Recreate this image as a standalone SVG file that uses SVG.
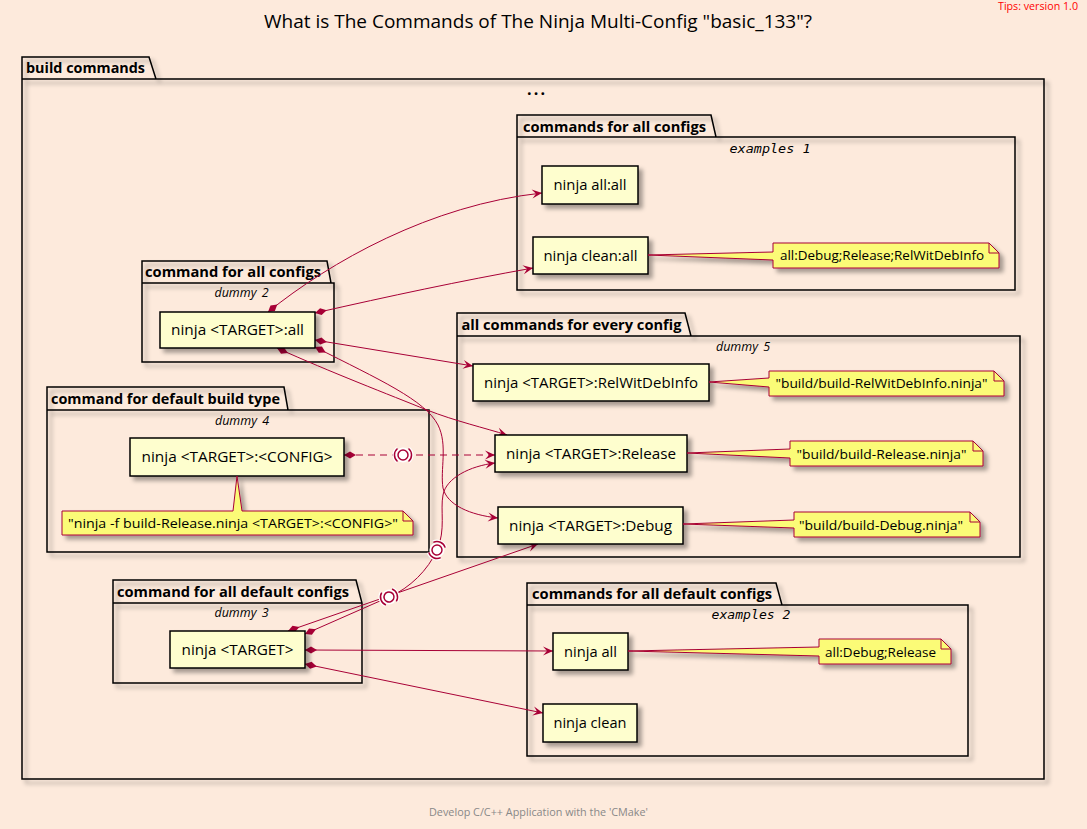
<svg xmlns="http://www.w3.org/2000/svg" width="1087" height="829" viewBox="0 0 1087 829">
<defs>
<style>
.pkg{fill:none;stroke:#000;stroke-width:1.5;filter:url(#sh);}
.pl{font-family:"Open Sans","Noto Sans",sans-serif;font-weight:bold;font-size:14px;fill:#000;}
.it{font-family:"Open Sans","Noto Sans",sans-serif;font-style:italic;font-size:12.5px;word-spacing:2px;fill:#000;text-anchor:middle;}
.mono{font-family:"DejaVu Sans Mono",monospace;font-style:italic;font-size:13px;fill:#000;text-anchor:middle;}
.box{fill:#FEFECE;stroke:#000;stroke-width:1.5;filter:url(#sh);}
.nl{font-family:"Open Sans","Noto Sans",sans-serif;font-size:14px;fill:#000;text-anchor:middle;}
.ns{fill:#FBFB77;stroke:#A80036;stroke-width:1;filter:url(#sh);}
.nf{fill:none;stroke:#A80036;stroke-width:1;}
.nt{font-family:"Open Sans","Noto Sans",sans-serif;font-size:13px;fill:#000;}
.e{fill:none;stroke:#A80036;stroke-width:1;}
.d{marker-start:url(#dm);marker-end:url(#ah);}
</style>
<filter id="sh" x="-10%" y="-10%" width="130%" height="150%">
<feDropShadow dx="4" dy="4" stdDeviation="2" flood-color="#000" flood-opacity="0.35"/>
</filter>
<marker id="ah" markerUnits="userSpaceOnUse" orient="auto" refX="0" refY="0" markerWidth="12" markerHeight="10" overflow="visible">
<path d="M0,0 L-10,-4.5 L-6,0 L-10,4.5 Z" fill="#A80036"/>
</marker>
<marker id="dm" markerUnits="userSpaceOnUse" orient="auto" refX="0" refY="0" markerWidth="14" markerHeight="10" overflow="visible">
<path d="M0,0 L6,-3.5 L12,0 L6,3.5 Z" fill="#A80036"/>
</marker>
<g id="lp">
<circle r="5" fill="#fff" stroke="#fff" stroke-width="5"/>
<path d="M-5.5,-6.5 A8.5,8.5 0 0 0 -5.5,6.5 M5.5,-6.5 A8.5,8.5 0 0 1 5.5,6.5" fill="none" stroke="#fff" stroke-width="4"/>
<path d="M-5.5,-6.5 A8.5,8.5 0 0 0 -5.5,6.5 M5.5,-6.5 A8.5,8.5 0 0 1 5.5,6.5" fill="none" stroke="#A80036" stroke-width="1.5"/>
<circle r="5" fill="#fff" stroke="#A80036" stroke-width="1.5"/>
</g>
</defs>
<rect x="0" y="0" width="1087" height="829" fill="#FDEADC"/>

<text x="538" y="28" font-family="Open Sans, Noto Sans, sans-serif" font-size="18" text-anchor="middle" textLength="548" lengthAdjust="spacingAndGlyphs">What is The Commands of The Ninja Multi-Config "basic_133"?</text>
<text x="1078" y="10" font-family="Open Sans, Noto Sans, sans-serif" font-size="10.5" fill="#FF0000" text-anchor="end" textLength="80" lengthAdjust="spacingAndGlyphs">Tips: version 1.0</text>

<g id="pkg-build-commands">
<path class="pkg" d="M22,57 L149,57 L156,79 L1044,79 L1044,779 L22,779 Z M22,79 L156,79"/>
<text class="pl" x="26" y="73" textLength="119" lengthAdjust="spacingAndGlyphs">build commands</text>
<text x="536" y="95" font-family="Open Sans, Noto Sans, sans-serif" font-size="16" font-weight="bold" text-anchor="middle" textLength="18" lengthAdjust="spacing">...</text>
</g>

<g id="pkg-commands-for-all-configs">
<path class="pkg" d="M517,115 L711,115 L716,137 L1015,137 L1015,290 L517,290 Z M517,137 L716,137"/>
<text class="pl" x="523" y="132" textLength="183" lengthAdjust="spacingAndGlyphs">commands for all configs</text>
<text class="mono" x="770" y="153" textLength="81" lengthAdjust="spacingAndGlyphs">examples 1</text>
</g>

<g id="pkg-command-for-all-configs">
<path class="pkg" d="M142,261 L327,261 L331,283 L334,283 L334,362 L142,362 Z M142,283 L331,283"/>
<text class="pl" x="145" y="277" textLength="176" lengthAdjust="spacingAndGlyphs">command for all configs</text>
<text class="it" x="241.5" y="297">dummy 2</text>
</g>

<g id="pkg-command-for-default-build-type">
<path class="pkg" d="M47,387 L284,387 L288,410 L429,410 L429,552 L47,552 Z M47,410 L288,410"/>
<text class="pl" x="51" y="404" textLength="229" lengthAdjust="spacingAndGlyphs">command for default build type</text>
<text class="it" x="242" y="425">dummy 4</text>
</g>

<g id="pkg-all-commands-for-every-config">
<path class="pkg" d="M457,313 L685,313 L691,336 L1020,336 L1020,557 L457,557 Z M457,336 L691,336"/>
<text class="pl" x="461.5" y="330" textLength="220" lengthAdjust="spacingAndGlyphs">all commands for every config</text>
<text class="it" x="743" y="351">dummy 5</text>
</g>

<g id="pkg-command-for-all-default-configs">
<path class="pkg" d="M113,580 L356,580 L362,603 L362,683 L113,683 Z M113,603 L362,603"/>
<text class="pl" x="117" y="597" textLength="232" lengthAdjust="spacingAndGlyphs">command for all default configs</text>
<text class="it" x="241.5" y="617">dummy 3</text>
</g>

<g id="pkg-commands-for-all-default-configs">
<path class="pkg" d="M527,583 L776,583 L782,605 L968,605 L968,756 L527,756 Z M527,605 L782,605"/>
<text class="pl" x="532" y="599" textLength="240" lengthAdjust="spacingAndGlyphs">commands for all default configs</text>
<text class="mono" x="751" y="619" textLength="79" lengthAdjust="spacingAndGlyphs">examples 2</text>
</g>

<g id="connectors">
<path class="e d" d="M268,312 C330,262 430,205 542,193"/>
<path class="e d" d="M315,313 C390,296 460,281 533,268"/>
<path class="e d" d="M315,340 L473,366"/>
<path class="e d" d="M277,348 C330,372 390,395 427,410 C455,421 485,428 507,435"/>
<path class="e d" d="M315,347 C380,380 425,400 438,425 C448,445 440,470 443,488 C447,505 470,515 498,518"/>
<path class="e d" d="M344,455 L495,455" stroke-dasharray="7,5"/>
<path class="e d" d="M288,631 L538,544"/>
<path class="e d" d="M305,634 L389,597 C410,588 428,570 437,550 C446,530 440,510 443,495 C446,478 470,466 495,463"/>
<path class="e d" d="M305,650 L553,651"/>
<path class="e d" d="M305,664 L543,713"/>
<use href="#lp" transform="translate(403,455)"/>
<use href="#lp" transform="translate(437,550) rotate(-66)"/>
<use href="#lp" transform="translate(389,597) rotate(-19)"/>
</g>

<g id="node-ninja-target-all">
<rect class="box" x="160" y="312" width="155" height="36"/>
<text class="nl" x="237.5" y="335" textLength="133" lengthAdjust="spacingAndGlyphs">ninja &lt;TARGET&gt;:all</text>
</g>
<g id="node-ninja-all-all">
<rect class="box" x="542" y="166" width="96" height="38"/>
<text class="nl" x="590" y="190" textLength="73" lengthAdjust="spacingAndGlyphs">ninja all:all</text>
</g>
<g id="node-ninja-clean-all">
<rect class="box" x="533" y="237" width="115" height="37"/>
<text class="nl" x="590.5" y="260.5" textLength="94" lengthAdjust="spacingAndGlyphs">ninja clean:all</text>
</g>
<g id="node-ninja-target-config">
<rect class="box" x="130" y="438" width="214" height="38"/>
<text class="nl" x="237" y="462" textLength="191" lengthAdjust="spacingAndGlyphs">ninja &lt;TARGET&gt;:&lt;CONFIG&gt;</text>
</g>
<g id="node-ninja-target-relwitdebinfo">
<rect class="box" x="473" y="364" width="236" height="37"/>
<text class="nl" x="591" y="387.5" textLength="214" lengthAdjust="spacingAndGlyphs">ninja &lt;TARGET&gt;:RelWitDebInfo</text>
</g>
<g id="node-ninja-target-release">
<rect class="box" x="495" y="435" width="192" height="37"/>
<text class="nl" x="591" y="458.5" textLength="170" lengthAdjust="spacingAndGlyphs">ninja &lt;TARGET&gt;:Release</text>
</g>
<g id="node-ninja-target-debug">
<rect class="box" x="498" y="507" width="185" height="37"/>
<text class="nl" x="590.5" y="530.5" textLength="163" lengthAdjust="spacingAndGlyphs">ninja &lt;TARGET&gt;:Debug</text>
</g>
<g id="node-ninja-target">
<rect class="box" x="170" y="631" width="135" height="37"/>
<text class="nl" x="237.5" y="654.5" textLength="112" lengthAdjust="spacingAndGlyphs">ninja &lt;TARGET&gt;</text>
</g>
<g id="node-ninja-all">
<rect class="box" x="553" y="633" width="75" height="37"/>
<text class="nl" x="590.5" y="656.5" textLength="53" lengthAdjust="spacingAndGlyphs">ninja all</text>
</g>
<g id="node-ninja-clean">
<rect class="box" x="543" y="704" width="94" height="38"/>
<text class="nl" x="590" y="728" textLength="73" lengthAdjust="spacingAndGlyphs">ninja clean</text>
</g>

<g id="note-all-configs">
<path class="ns" d="M773,243 L989,243 L999,253 L999,268 L773,268 L773,260 L648,255 L773,252 Z"/>
<path class="nf" d="M989,243 L989,253 L999,253"/>
<text class="nt" x="780" y="260" textLength="204" lengthAdjust="spacingAndGlyphs">all:Debug;Release;RelWitDebInfo</text>
</g>
<g id="note-relwitdebinfo">
<path class="ns" d="M769,371 L994,371 L1004,381 L1004,396 L769,396 L769,387 L709,382 L769,378 Z"/>
<path class="nf" d="M994,371 L994,381 L1004,381"/>
<text class="nt" x="775.5" y="388" textLength="212" lengthAdjust="spacingAndGlyphs">"build/build-RelWitDebInfo.ninja"</text>
</g>
<g id="note-release">
<path class="ns" d="M790,441 L973,441 L983,451 L983,466 L790,466 L790,458 L687,453 L790,449 Z"/>
<path class="nf" d="M973,441 L973,451 L983,451"/>
<text class="nt" x="796.5" y="458.5" textLength="170" lengthAdjust="spacingAndGlyphs">"build/build-Release.ninja"</text>
</g>
<g id="note-debug">
<path class="ns" d="M794,512 L970,512 L980,522 L980,537 L794,537 L794,528 L683,524 L794,520 Z"/>
<path class="nf" d="M970,512 L970,522 L980,522"/>
<text class="nt" x="799" y="529.5" textLength="164" lengthAdjust="spacingAndGlyphs">"build/build-Debug.ninja"</text>
</g>
<g id="note-default-configs">
<path class="ns" d="M819,639 L941,639 L951,649 L951,664 L819,664 L819,656 L628,651 L819,647 Z"/>
<path class="nf" d="M941,639 L941,649 L951,649"/>
<text class="nt" x="825" y="656.5" textLength="111" lengthAdjust="spacingAndGlyphs">all:Debug;Release</text>
</g>
<g id="note-config">
<path class="ns" d="M62,511 L233,511 L237,476 L242,511 L403,511 L413,521 L413,535 L62,535 Z"/>
<path class="nf" d="M403,511 L403,521 L413,521"/>
<text class="nt" x="68" y="528" textLength="330" lengthAdjust="spacingAndGlyphs">"ninja -f build-Release.ninja &lt;TARGET&gt;:&lt;CONFIG&gt;"</text>
</g>

<text x="538.5" y="816" font-family="Open Sans, Noto Sans, sans-serif" font-size="10.5" fill="#888888" text-anchor="middle" textLength="219" lengthAdjust="spacingAndGlyphs">Develop C/C++ Application with the 'CMake'</text>
</svg>
